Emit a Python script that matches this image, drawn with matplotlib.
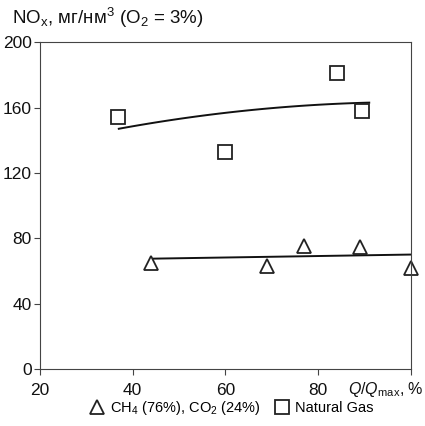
import numpy as np
import matplotlib.pyplot as plt

plt.rcParams['font.family'] = ['Liberation Sans', 'DejaVu Sans']
plt.rcParams['mathtext.fontset'] = 'custom'
plt.rcParams['mathtext.rm'] = 'Liberation Sans'
plt.rcParams['mathtext.it'] = 'Liberation Sans:italic'

# данные
q_ng = [36.8, 60, 84, 89.5]          # Natural Gas
nox_ng = [154, 133, 181, 158]
q_ch4 = [44, 69, 77, 89, 100]        # CH4/CO2
nox_ch4 = [65, 63, 75.5, 74.5, 62]

# линии тренда
fit_ng_x = [37, 64, 91]
fit_ng_y = [147, 158, 163]
fit_ch4_x = [44.5, 100]
fit_ch4_y = [67.5, 70]

fig = plt.figure(figsize=(4.25, 4.26), dpi=100)
ax = fig.add_axes([0.094, 0.134, 0.873, 0.767])

c = np.polyfit(fit_ng_x, fit_ng_y, 2)
xx = np.linspace(fit_ng_x[0], fit_ng_x[-1], 100)
ax.plot(xx, np.polyval(c, xx), color='#111111', lw=1.4)
ax.plot(fit_ch4_x, fit_ch4_y, color='#111111', lw=1.4)

ax.plot(q_ch4, nox_ch4, ls='none', marker='^', ms=10, mfc='white', mec='#222222', mew=1.3,
        label='CH$_4$ (76%), CO$_2$ (24%)', clip_on=False)
ax.plot(q_ng, nox_ng, ls='none', marker='s', ms=10, mfc='white', mec='#222222', mew=1.3,
        label='Natural Gas', clip_on=False)

ax.set_xlim(20, 100)
ax.set_ylim(0, 200)
ax.set_xticks([20, 40, 60, 80, 100])
ax.set_xticklabels(['20', '40', '60', '80', ''])
ax.set_yticks([0, 40, 80, 120, 160, 200])
ax.tick_params(direction='out', length=4, width=0.8, labelsize=12.5, colors='#444444',
               labelcolor='#111111')
ax.tick_params(axis='x', pad=6)
ax.tick_params(axis='y', pad=2)
for s in ax.spines.values():
    s.set_linewidth(0.8)
    s.set_color('#444444')

fig.text(0.998, 0.085, '$Q$/$Q$$_{\\rm max}$, %', fontsize=11.5, ha='right', va='center', color='#111111')
fig.text(0.028, 0.958, 'NO$_{\\rm x}$, мг/нм$^3$ (O$_2$ = 3%)', fontsize=13.5, ha='left', va='center',
         color='#111111')

fig.legend(loc='center', bbox_to_anchor=(0.545, 0.042), ncol=2, frameon=False, fontsize=10.5,
           handlelength=1.0, handletextpad=0.4, columnspacing=0.9, markerscale=1.0)

fig.savefig('out.png', dpi=100)
